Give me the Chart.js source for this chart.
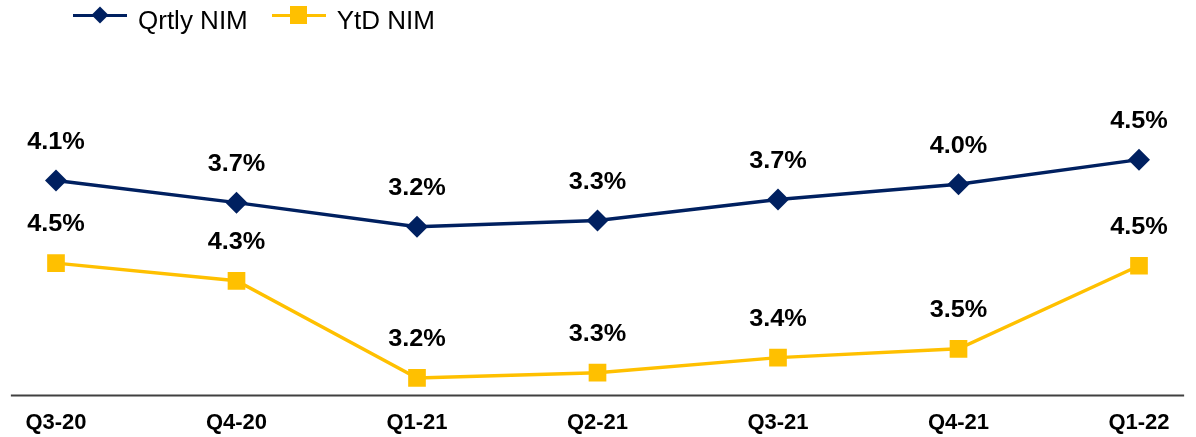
<!DOCTYPE html>
<html>
<head>
<meta charset="utf-8">
<script src="https://cdn.jsdelivr.net/npm/chart.js@4.4.1/dist/chart.umd.min.js"></script>
<style>
  html, body { margin: 0; padding: 0; background: #fff; }
  #wrap { position: relative; width: 1196px; height: 437px; }
  #legend { position: absolute; left: 73px; top: 0; display: flex; font-family: "Liberation Sans", Arial, sans-serif; font-size: 26px; color: #000; }
  .item { display: flex; align-items: flex-start; margin-right: 24px; }
  .sym { position: relative; width: 54px; height: 30px; }
  .sym .ln { position: absolute; left: 0; right: 0; top: 13.5px; height: 3.5px; }
  .sym .mk { position: absolute; }
  .txt { margin-left: 11px; margin-top: 7px; line-height: 26px; white-space: nowrap; }
</style>
</head>
<body>
<div id="wrap">
  <canvas id="nimChart" width="1196" height="437"></canvas>
  <div id="legend"></div>
</div>
<script>
// Daten
const categories = ['Q3-20', 'Q4-20', 'Q1-21', 'Q2-21', 'Q3-21', 'Q4-21', 'Q1-22'];
const qrtlyNim = [4.10, 3.68, 3.22, 3.34, 3.74, 4.03, 4.50];
const ytdNim = [4.50, 4.30, 3.20, 3.26, 3.43, 3.53, 4.47];
const qrtlyRange = [0, 6.4];
const ytdRange = [3.0, 6.8];

const NAVY = '#002060';
const GOLD = '#FFC000';
const FONT = '"Liberation Sans", Arial, sans-serif';

// Basislinie unter den Punkten
const baseLine = {
  id: 'baseLine',
  beforeDatasetsDraw(chart) {
    const { ctx, chartArea } = chart;
    const step = (chartArea.right - chartArea.left) / (categories.length - 1);
    ctx.save();
    ctx.strokeStyle = '#404040';
    ctx.lineWidth = 2;
    ctx.beginPath();
    ctx.moveTo(chartArea.left - step * 0.25, chartArea.bottom);
    ctx.lineTo(chartArea.right + step * 0.25, chartArea.bottom);
    ctx.stroke();
    ctx.restore();
  }
};

// Werte über den Punkten
const valueLabels = {
  id: 'valueLabels',
  afterDatasetsDraw(chart) {
    const ctx = chart.ctx;
    ctx.save();
    ctx.font = 'bold 23px ' + FONT;
    ctx.fillStyle = '#000';
    ctx.textAlign = 'center';
    ctx.textBaseline = 'middle';
    chart.data.datasets.forEach((ds, i) => {
      chart.getDatasetMeta(i).data.forEach((pt, j) => {
        ctx.save();
        ctx.translate(pt.x, pt.y - 38);
        ctx.scale(1.1, 1);
        ctx.fillText(ds.data[j].toFixed(1) + '%', 0, 0);
        ctx.restore();
      });
    });
    ctx.restore();
  }
};

const chart = new Chart(document.getElementById('nimChart'), {
  type: 'line',
  data: {
    labels: categories,
    datasets: [
      { label: 'Qrtly NIM', data: qrtlyNim, yAxisID: 'yQ', borderColor: NAVY, backgroundColor: NAVY,
        borderWidth: 3.5, pointStyle: 'rectRot', pointRadius: 11, pointBorderWidth: 0, tension: 0 },
      { label: 'YtD NIM', data: ytdNim, yAxisID: 'yY', borderColor: GOLD, backgroundColor: GOLD,
        borderWidth: 3.5, pointStyle: 'rect', pointRadius: 12.5, pointBorderWidth: 0, tension: 0 }
    ]
  },
  options: {
    responsive: false,
    animation: false,
    devicePixelRatio: 1,
    layout: { padding: { left: 56, right: 57, top: 60, bottom: -13 } },
    plugins: { legend: { display: false }, tooltip: { enabled: false } },
    scales: {
      x: {
        grid: { display: false, drawTicks: false },
        border: { display: false },
        ticks: { color: '#000', font: { family: FONT, size: 22, weight: 'bold' }, padding: 14, maxRotation: 0, autoSkip: false }
      },
      yQ: { display: false, min: qrtlyRange[0], max: qrtlyRange[1] },
      yY: { display: false, min: ytdRange[0], max: ytdRange[1] }
    }
  },
  plugins: [baseLine, valueLabels]
});

// Legende als HTML (Linie mit Marker)
const legend = document.getElementById('legend');
chart.data.datasets.forEach(ds => {
  const item = document.createElement('div');
  item.className = 'item';
  const diamond = ds.pointStyle === 'rectRot';
  const mk = diamond
    ? `left:${27 - 6}px; top:${15 - 6}px; width:12px; height:12px; transform:rotate(45deg); background:${ds.borderColor};`
    : `left:${27 - 8.5}px; top:${15 - 9}px; width:17px; height:18px; background:${ds.borderColor};`;
  item.innerHTML = `
    <span class="sym"><span class="ln" style="background:${ds.borderColor}"></span><span class="mk" style="${mk}"></span></span>
    <span class="txt">${ds.label}</span>
  `;
  legend.appendChild(item);
});
</script>
</body>
</html>
